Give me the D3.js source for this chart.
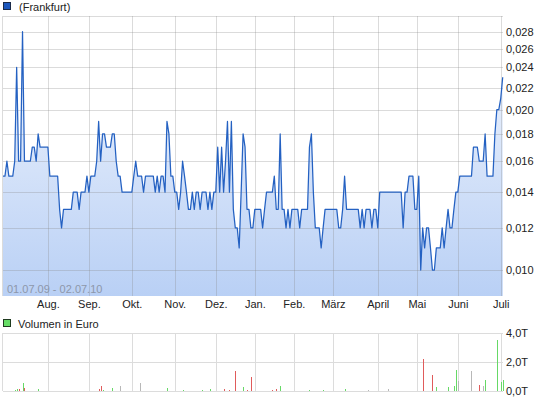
<!DOCTYPE html>
<html>
<head>
<meta charset="utf-8">
<script src="https://cdn.jsdelivr.net/npm/d3@7"></script>
<style>
body{margin:0;background:#fff;}
text{font-family:"Liberation Sans",Arial,sans-serif;font-size:11px;fill:#222;}
</style>
</head>
<body>
<div id="chart"></div>
<script>

// daily closing prices, one per trading day 01.07.09 - 02.07.10
let prices=[
.015,.015,.016,.015,.015,.015,.016,.024,.016,.016,
.028,.016,.016,.016,.016,.017,.017,.016,.018,.017,
.017,.017,.017,.017,.015,.015,.015,.015,.015,.013,
.012,.013,.013,.013,.013,.013,.014,.014,.014,.013,
.014,.014,.014,.015,.014,.015,.015,.015,.016,.019,
.016,.018,.018,.017,.017,.017,.018,.018,.016,.015,
.015,.014,.014,.014,.014,.014,.014,.015,.016,.015,
.015,.015,.014,.015,.015,.015,.015,.015,.014,.015,
.014,.015,.015,.014,.019,.018,.015,.015,.014,.014,
.013,.014,.016,.015,.014,.013,.013,.014,.013,.014,
.014,.013,.014,.014,.014,.013,.014,.013,.014,.014,
.017,.014,.017,.014,.016,.019,.014,.019,.013,.012,
.012,.011,.014,.018,.017,.013,.013,.012,.012,.013,
.013,.013,.013,.012,.013,.014,.014,.014,.014,.015,
.013,.013,.018,.013,.013,.012,.013,.012,.013,.013,
.013,.013,.012,.013,.013,.013,.013,.017,.018,.014,
.012,.012,.012,.011,.012,.013,.013,.013,.013,.013,
.013,.013,.012,.012,.013,.015,.013,.013,.013,.013,
.013,.013,.013,.012,.013,.012,.013,.013,.013,.012,
.013,.013,.012,.014,.014,.014,.014,.014,.014,.014,
.014,.014,.014,.014,.014,.012,.014,.014,.015,.015,
.015,.013,.013,.015,.010,.012,.011,.012,.012,.011,
.010,.010,.011,.011,.011,.012,.011,.012,.013,.012,
.012,.013,.014,.014,.015,.015,.015,.015,.015,.015,
.015,.017,.017,.017,.016,.016,.016,.018,.015,.015,
.015,.015,.018,.020,.020,.021,.023
];

// first trading day of each month (index into prices)
let monthIdx=[23,44,66,88,109,129,149,169,192,212,233,255];
let monthLabels=["Aug.","Sep.","Okt.","Nov.","Dez.","Jan.","Feb.","März","April","Mai","Juni","Juli"];
let yTicks=[0.010,0.012,0.014,0.016,0.018,0.020,0.022,0.024,0.026,0.028];

// volume in thousand euro: trading day index, value, colour (g up, r down, n unchanged)
let volIdx=[1,6,7,8,10,11,13,15,16,17,18,24,34,38,47,49,50,51,56,58,60,68,69,70,72,75,78,80,84,86,90,92,94,98,100,102,106,110,113,116,119,120,123,125,127,131,134,136,138,140,142,145,148,150,152,154,157,158,160,164,166,170,172,175,177,180,182,184,187,190,193,197,200,203,205,208,210,215,217,219,220,222,225,226,228,231,232,233,236,238,240,242,244,246,247,250,253,255,256];
let volVal=[0.03,0.07,0.14,0.16,0.57,0.23,0.02,0.03,0.03,0.03,0.11,0.03,0.02,0.02,0.02,0.16,0.32,0.07,0.23,0.03,0.37,0.03,0.03,0.57,0.02,0.02,0.02,0.02,0.23,0.02,0.03,0.09,0.02,0.03,0.03,0.07,0.16,0.02,0.14,0.07,1.39,0.03,0.27,0.05,0.98,0.03,0.03,0.02,0.04,0.14,0.34,0.03,0.02,0.02,0.02,0.02,0.07,0.03,0.03,0.07,0.02,0.02,0.02,0.16,0.02,0.02,0.02,0.02,0.05,0.02,0.02,0.14,0.02,0.02,0.02,0.02,0.02,2.19,0.03,0.02,1.09,0.27,0.03,0.02,0.27,0.34,1.46,0.68,0.03,0.03,1.37,0.03,0.41,0.34,0.75,0.03,3.49,0.64,0.75];
let volCol=["g","g","g","r","g","r","n","g","r","r","g","r","n","r","n","r","r","g","g","r","n","g","g","n","n","n","n","n","g","r","g","g","r","g","g","g","g","n","r","r","r","n","g","r","r","n","n","n","r","r","g","n","n","n","n","n","g","r","r","g","n","n","n","g","n","n","n","n","n","n","n","n","n","n","n","n","n","r","n","g","r","g","g","g","g","g","g","n","n","n","n","n","r","n","g","n","g","g","g"];
let volTicks=[0,2,4];

let width=545, height=401;
let plotL=3, plotR=502.7;
let plotT=16, plotB=296;
let volT=332.5, volB=391;
let gridColor="#dcdcdc";
let colors={g:"#66d966",r:"#e05b5b",n:"#b8b8b8"};
let fontFam="\"Liberation Sans\",Arial,sans-serif";

let chart=d3.select("#chart").append("svg")
.attr("width",width).attr("height",height);

let x=d3.scaleLinear().domain([0,prices.length-1]).range([plotL,plotR]);
let y=d3.scaleLog().domain([0.00894,0.02996]).range([plotB,plotT]);
let yv=d3.scaleLinear().domain([0,4]).range([volB,volT]);

let defs=chart.append("defs");
let grad=defs.append("linearGradient").attr("id","fillGrad")
.attr("gradientUnits","userSpaceOnUse")
.attr("x1",0).attr("y1",plotT).attr("x2",0).attr("y2",plotB);
grad.append("stop").attr("offset","0%").attr("stop-color","#f5f8fe");
grad.append("stop").attr("offset","100%").attr("stop-color","#b9d0f5");

// price area + grid
let area=d3.area().x((d,i)=>x(i)).y0(plotB).y1(d=>y(d));
chart.append("path").datum(prices)
.attr("d",area).attr("fill","url(#fillGrad)");

let grid=chart.append("g").attr("stroke","#888").attr("stroke-opacity",0.3).attr("shape-rendering","crispEdges");
grid.selectAll("line.h").data(yTicks).enter().append("line")
.attr("x1",plotL).attr("x2",plotR).attr("y1",d=>Math.round(y(d))+0.5).attr("y2",d=>Math.round(y(d))+0.5);
grid.append("line").attr("x1",plotL).attr("x2",plotR).attr("y1",plotT+0.5).attr("y2",plotT+0.5);
grid.selectAll("line.v").data(monthIdx).enter().append("line")
.attr("x1",d=>Math.round(x(d))+0.5).attr("x2",d=>Math.round(x(d))+0.5).attr("y1",plotT).attr("y2",plotB);
grid.append("line").attr("x1",plotL-0.5).attr("x2",plotL-0.5).attr("y1",plotT).attr("y2",plotB);

let line=d3.line().x((d,i)=>x(i)).y(d=>y(d));
chart.append("path").datum(prices)
.attr("d",line).attr("fill","none").attr("stroke","#2461c2").attr("stroke-width",1.25)
.attr("stroke-linejoin","round");

chart.append("text").text("01.07.09 - 02.07.10")
.attr("x",7).attr("y",293).style("fill","#8d97aa");

// axes
let yAxis=d3.axisRight(y).tickValues(yTicks)
.tickFormat(d=>d3.format(".3f")(d).replace(".",",")).tickSize(0).tickPadding(3);
let ya=chart.append("g").attr("transform","translate("+(plotR+0.3)+",0)").call(yAxis);
ya.select(".domain").remove();
ya.selectAll("text").style("font-size","11px").style("fill","#222").style("font-family",fontFam);

let xAxis=d3.axisBottom(x).tickValues(monthIdx).tickFormat((d,i)=>monthLabels[i]).tickSize(0).tickPadding(4);
let xa=chart.append("g").attr("transform","translate(0,"+plotB+")").call(xAxis);
xa.select(".domain").remove();
xa.selectAll("text").style("font-size","11px").style("fill","#222").style("font-family",fontFam);

// legends
chart.append("rect").attr("x",3.5).attr("y",2.5).attr("width",7).attr("height",7)
.attr("fill","#1c57bd").attr("stroke","#1b2a48");
chart.append("text").text("(Frankfurt)").attr("x",19).attr("y",11);

chart.append("rect").attr("x",3.5).attr("y",319.5).attr("width",7).attr("height",7)
.attr("fill","#66dd66").attr("stroke","#1f3a1f");
chart.append("text").text("Volumen in Euro").attr("x",18).attr("y",327.5);

// volume panel
let vgrid=chart.append("g").attr("stroke",gridColor).attr("shape-rendering","crispEdges");
vgrid.selectAll("line.h").data(volTicks).enter().append("line")
.attr("x1",plotL).attr("x2",plotR).attr("y1",d=>Math.round(yv(d))+0.5).attr("y2",d=>Math.round(yv(d))+0.5);
vgrid.selectAll("line.v").data(monthIdx).enter().append("line")
.attr("x1",d=>Math.round(x(d))+0.5).attr("x2",d=>Math.round(x(d))+0.5).attr("y1",volT).attr("y2",volB);
vgrid.append("line").attr("x1",plotL-0.5).attr("x2",plotL-0.5).attr("y1",volT).attr("y2",volB);

chart.append("g").selectAll("rect").data(volIdx).enter().append("rect")
.attr("x",d=>Math.round(x(d)))
.attr("width",1)
.attr("y",(d,i)=>yv(volVal[i]))
.attr("height",(d,i)=>yv(0)-yv(volVal[i]))
.attr("fill",(d,i)=>colors[volCol[i]])
.attr("shape-rendering","crispEdges");

let vAxis=d3.axisRight(yv).tickValues(volTicks)
.tickFormat(d=>d3.format(".1f")(d).replace(".",",")+"T").tickSize(0).tickPadding(3);
let va=chart.append("g").attr("transform","translate("+(plotR+0.3)+",0)").call(vAxis);
va.select(".domain").remove();
va.selectAll("text").style("font-size","11px").style("fill","#222").style("font-family",fontFam);

</script>
</body>
</html>
